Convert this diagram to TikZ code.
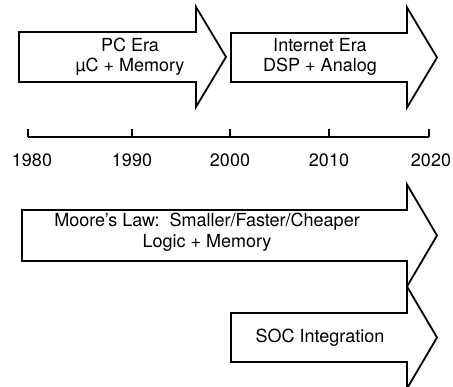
\documentclass[tikz,border=0pt]{standalone}
\usepackage{fontspec}
\setmainfont{TeX Gyre Heros}
\begin{document}
\begin{tikzpicture}[x=1pt,y=-1pt,
  blockarrow/.style={draw=black,line width=1.8pt,line join=miter,fill=white},
  era/.style={font=\fontsize{18}{20.5}\selectfont,align=center,inner sep=0pt},
  year/.style={font=\fontsize{18}{20}\selectfont,inner sep=0pt},
  axis/.style={line width=1.6pt}]
\useasboundingbox (0,0) rectangle (453,387);

% wide arrow: body from x1 to x2 (ytop..ybot), head to tip x3 with half height h
\newcommand\eraarrow[6]{%
  \path[blockarrow] (#1,#4) -- (#2,#4) -- (#2,{(#4+#5)/2-#6}) -- (#3,{(#4+#5)/2})
    -- (#2,{(#4+#5)/2+#6}) -- (#2,#5) -- (#1,#5) -- cycle;}

% eras
\eraarrow{19}{196}{226}{32}{82}{50}
\eraarrow{231}{407}{437}{33}{82}{50}
\node[era] (pc)  at (130,57) {PC Era\\\textmu C + Memory};
\node[era] (net) at (320,57) {Internet Era\\DSP + Analog};

% time axis
\coordinate (t1980) at (28,137);
\coordinate (t1990) at (132,137);
\coordinate (t2000) at (230,137);
\coordinate (t2010) at (329,137);
\coordinate (t2020) at (429,137);
\draw[axis] (t1980) -- (t2020);
\foreach \t in {t1980,t1990,t2000,t2010,t2020}
  \draw[axis] (\t) -- ++(0,-8);
\node[year] (y1980) at (32,160) {1980};
\node[year] (y1990) at (132,160) {1990};
\node[year] (y2000) at (230,160) {2000};
\node[year] (y2010) at (329,160) {2010};
\node[year] (y2020) at (431,160) {2020};

% trends
\eraarrow{22}{407}{437}{210}{261}{51}
\eraarrow{231}{407}{437}{313}{362}{51}
\node[era] (moore) at (207,232) {Moore's Law:\ \ Smaller/Faster/Cheaper\\Logic + Memory};
\node[era] (soc) at (320,338) {SOC Integration};
\end{tikzpicture}
\end{document}
